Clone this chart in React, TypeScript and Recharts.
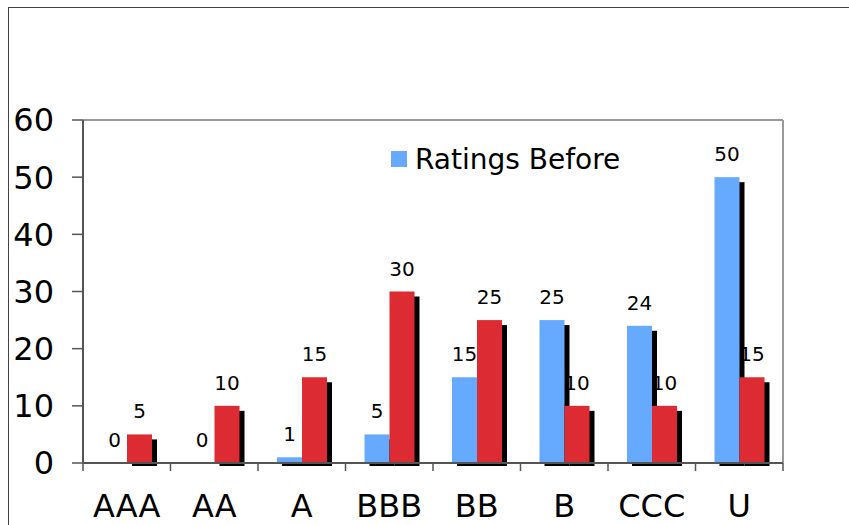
import { BarChart, Bar, XAxis, YAxis, Legend, LabelList, CartesianGrid } from "recharts";

const ratings = ["AAA", "AA", "A", "BBB", "BB", "B", "CCC", "U"];
const before = [0, 0, 1, 5, 15, 25, 24, 50];
const after = [5, 10, 15, 30, 25, 10, 10, 15];
const yTicks = [0, 10, 20, 30, 40, 50, 60];

const data = ratings.map((r, i) => ({ rating: r, before: before[i], after: after[i] }));

const FONT = "'DejaVu Sans', Verdana, sans-serif";
const BLUE = "#66aaff";
const RED = "#dd2b33";
const TICK_LEN = 8;
const TICK_GAP = 23;

// bar with a hard black drop shadow down and to the right
function ShadowBar(props: any) {
  const { x, y, width, height, fill } = props;
  if (!height || height <= 0) return <g />;
  return (
    <g>
      <rect x={x + 5} y={y + 5} width={width} height={Math.max(height - 2, 0)} fill="#000" />
      <rect x={x} y={y} width={width} height={height} fill={fill} />
    </g>
  );
}

// category label plus tick marks on the category boundaries
function RatingTick(props: any) {
  const { x, y, payload, index, visibleTicksCount, width } = props;
  const half = payload?.offset || width / visibleTicksCount / 2;
  const axisY = y - TICK_LEN - TICK_GAP;
  return (
    <g>
      <line x1={x - half} x2={x - half} y1={axisY} y2={axisY + TICK_LEN} stroke="#555" strokeWidth={1.5} />
      {index === visibleTicksCount - 1 && (
        <line x1={x + half} x2={x + half} y1={axisY} y2={axisY + TICK_LEN} stroke="#555" strokeWidth={1.5} />
      )}
      <text x={x} y={y} dy="0.71em" textAnchor="middle" fill="#000" fontSize={32} fontFamily={FONT}>
        {payload.value}
      </text>
    </g>
  );
}

function LegendBox({ payload }: any) {
  const items = (payload || []).filter((p: any) => p.type !== "none" && p.dataKey === "before");
  return (
    <div style={{ display: "flex", alignItems: "center", fontFamily: FONT, fontSize: 28, height: 30 }}>
      {items.map((p: any) => (
        <span key={p.value} style={{ display: "flex", alignItems: "center" }}>
          <span style={{ width: 16, height: 16, background: p.color, marginRight: 8 }} />
          <span style={{ color: "#000" }}>{p.value}</span>
        </span>
      ))}
    </div>
  );
}

export default function App() {
  return (
    <div
      style={{
        position: "fixed",
        left: 8,
        top: 7,
        width: 900,
        height: 600,
        borderTop: "1px solid #444",
        borderLeft: "1px solid #444",
        background: "#fff",
      }}
    >
      <BarChart
        width={841}
        height={517}
        data={data}
        margin={{ top: 112, right: 67, left: 0, bottom: 0 }}
        barSize={25}
        barGap={0}
      >
        <CartesianGrid
          stroke="#999"
          strokeWidth={2}
          horizontalCoordinatesGenerator={({ offset }: any) => [offset.top]}
          verticalCoordinatesGenerator={({ offset }: any) => [offset.left + offset.width]}
        />
        <XAxis
          dataKey="rating"
          height={62}
          axisLine={{ stroke: "#555", strokeWidth: 2 }}
          tickLine={false}
          tickSize={TICK_LEN}
          tickMargin={TICK_GAP}
          interval={0}
          tick={<RatingTick />}
        />
        <YAxis
          width={74}
          domain={[0, 60]}
          ticks={yTicks}
          tickSize={11}
          tickMargin={18}
          axisLine={{ stroke: "#555", strokeWidth: 2 }}
          tickLine={{ stroke: "#555", strokeWidth: 1.5 }}
          tick={{ fill: "#000", fontSize: 32, fontFamily: FONT }}
        />
        <Legend
          layout="horizontal"
          verticalAlign="middle"
          content={<LegendBox />}
          wrapperStyle={{ left: 382, top: 136, width: "auto" }}
        />
        <Bar dataKey="before" name="Ratings Before" fill={BLUE} shape={<ShadowBar />} isAnimationActive={false}>
          <LabelList dataKey="before" position="top" offset={16} fill="#000" fontSize={20} fontFamily={FONT} />
        </Bar>
        <Bar
          dataKey="after"
          name="Ratings After"
          fill={RED}
          legendType="none"
          shape={<ShadowBar />}
          isAnimationActive={false}
        >
          <LabelList dataKey="after" position="top" offset={16} fill="#000" fontSize={20} fontFamily={FONT} />
        </Bar>
      </BarChart>
    </div>
  );
}
